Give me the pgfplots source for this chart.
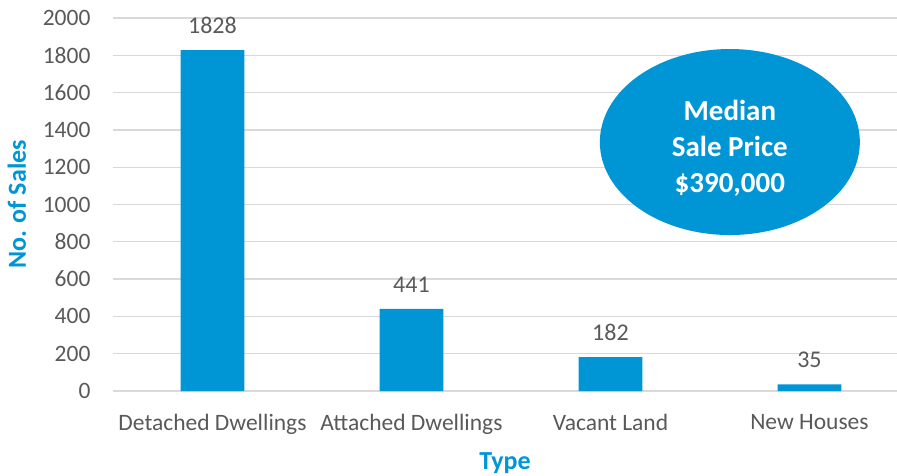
\documentclass[border=0pt]{standalone}
\usepackage{fontspec}
\setmainfont{Carlito}
\usepackage{pgfplots}
\pgfplotsset{compat=1.18}
\usetikzlibrary{shapes.geometric}
\definecolor{barblue}{RGB}{0,150,214}
\definecolor{ticktext}{RGB}{89,89,89}
\definecolor{gridgray}{RGB}{217,217,217}

\begin{document}
\begin{tikzpicture}
\useasboundingbox (-113pt,-84pt) rectangle (784pt,391pt);
\begin{axis}[
    scale only axis,
    width=784pt, height=373pt,
    ybar, bar width=0.32,
    xmin=-0.5, xmax=3.44,
    ymin=0, ymax=2000,
    ytick={0,200,...,2000},
    xtick=data,
    xticklabels={Detached Dwellings,Attached Dwellings,Vacant Land,New Houses},
    axis line style={draw=none},
    major tick length=0pt,
    ymajorgrids,
    grid style={gridgray, line width=1.3pt},
    /pgf/number format/assume math mode=true,
    /pgf/number format/1000 sep={},
    tick label style={font=\fontsize{23.5}{26}\selectfont, text=ticktext},
    yticklabel style={xshift=-19pt},
    xticklabel style={yshift=-20pt},
    xlabel={\textbf{Type}},
    ylabel={\textbf{No. of Sales}},
    label style={font=\fontsize{26}{30}\selectfont, text=barblue},
    xlabel style={yshift=-11pt},
    ylabel style={yshift=10pt},
    nodes near coords,
    nodes near coords style={font=\fontsize{24}{26}\selectfont, text=ticktext, yshift=13pt},
    clip=false,
]
\addplot[fill=barblue, draw=none] coordinates {(0,1828) (1,441) (2,182) (3,35)};
\node[ellipse, fill=barblue, minimum width=260pt, minimum height=186pt, inner sep=0pt]
      at (axis cs:2.6,1335) {};
\node[text=white, align=center, font=\bfseries\fontsize{29}{36}\selectfont]
      at (axis cs:2.6,1300) {Median\\Sale Price\\\$390,000};
\end{axis}
\end{tikzpicture}
\end{document}
